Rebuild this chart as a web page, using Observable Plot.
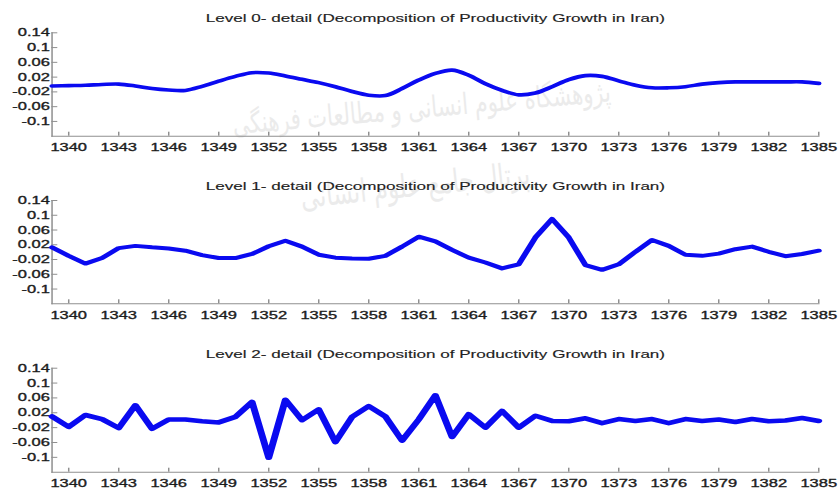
<!DOCTYPE html>
<html>
<head>
<meta charset="utf-8">
<script src="https://cdn.jsdelivr.net/npm/d3@7"></script>
<script src="https://cdn.jsdelivr.net/npm/@observablehq/plot@0.6"></script>
<style>
html, body { margin: 0; padding: 0; background: #fff; }
#wrap { position: relative; width: 839px; height: 490px; overflow: hidden; }
.wm { position: absolute; font-family: "DejaVu Sans", sans-serif; color: #ebebeb; white-space: nowrap; direction: rtl; transform-origin: center; }
#charts { position: absolute; left: 0; top: 0; }
#charts svg { display: block; }
</style>
</head>
<body>
<div id="wrap">
  <div class="wm" style="left:232px; top:96px; font-size:21px; transform:rotate(-5deg) scaleY(1.4);">پژوهشگاه علوم انسانی و مطالعات فرهنگی</div>
  <div class="wm" style="left:300px; top:172px; font-size:23px; transform:rotate(-6deg) scaleY(1.4);">پرتال جامع علوم انسانی</div>
  <div id="charts"></div>
</div>
<script>
// ---- data ----
const years = [1339,1340,1341,1342,1343,1344,1345,1346,1347,1348,1349,1350,1351,1352,1353,1354,1355,1356,1357,1358,1359,1360,1361,1362,1363,1364,1365,1366,1367,1368,1369,1370,1371,1372,1373,1374,1375,1376,1377,1378,1379,1380,1381,1382,1383,1384,1385];

const level0 = [-0.004,-0.003,-0.002,0.000,0.001,-0.004,-0.011,-0.015,-0.016,-0.005,0.009,0.022,0.032,0.031,0.023,0.014,0.005,-0.006,-0.019,-0.029,-0.030,-0.011,0.012,0.030,0.039,0.025,0.002,-0.016,-0.028,-0.023,-0.006,0.013,0.024,0.022,0.010,-0.002,-0.009,-0.009,-0.006,0.001,0.005,0.007,0.007,0.007,0.007,0.007,0.003];

const level1 = [0.013,-0.010,-0.031,-0.016,0.011,0.017,0.013,0.010,0.004,-0.008,-0.016,-0.016,-0.005,0.016,0.031,0.015,-0.007,-0.015,-0.017,-0.018,-0.010,0.015,0.042,0.029,0.006,-0.015,-0.028,-0.044,-0.033,0.040,0.090,0.040,-0.035,-0.048,-0.033,0.001,0.033,0.017,-0.007,-0.010,-0.004,0.008,0.015,0.001,-0.011,-0.005,0.004];

const level2 = [0.010,-0.018,0.014,0.003,-0.021,0.040,-0.023,0.002,0.002,-0.003,-0.006,0.009,0.049,-0.101,0.055,0.000,0.029,-0.059,0.009,0.038,0.010,-0.055,0.002,0.067,-0.045,0.016,-0.020,0.025,-0.020,0.012,-0.002,-0.003,0.005,-0.008,0.003,-0.002,0.003,-0.008,0.003,-0.002,0.002,-0.005,0.003,-0.003,-0.001,0.006,-0.002];

const titles = [
  "Level 0- detail (Decomposition of Productivity Growth in Iran)",
  "Level 1- detail (Decomposition of Productivity Growth in Iran)",
  "Level 2- detail (Decomposition of Productivity Growth in Iran)"
];

const yTicks = [0.14, 0.1, 0.06, 0.02, -0.02, -0.06, -0.1];
const yTickLabels = ["0.14", "0.1", "0.06", "0.02", "-0.02", "-0.06", "-0.1"];
const xTicks = [1340,1343,1346,1349,1352,1355,1358,1361,1364,1367,1370,1373,1376,1379,1382,1385];
const xTickLabels = ["1340","1343","1346","1349","1352","1355","1358","1361","1364","1367","1370","1373","1376","1379","1382","1385"];

// ---- layout ----
const OUT_W = 839;          // real page width
const VW = 560;             // virtual drawing width (picture is horizontally stretched)
const S = OUT_W / VW;
const ML = 51.3 / S, MR = (839 - 818) / S;
const AXIS = "#8f8f8f", INK = "#1c1c1c";

function panel(title, values, cfg) {
  const data = years.map((yr, i) => ({year: yr, value: values[i]}));
  const svg = Plot.plot({
    width: VW,
    height: cfg.height,
    marginTop: cfg.marginTop,
    marginBottom: cfg.marginBottom,
    marginLeft: ML,
    marginRight: MR,
    style: {fontFamily: "'Liberation Sans', Arial, sans-serif", fontSize: "11px", background: "transparent", overflow: "visible", color: INK},
    x: {domain: [years[0], years[years.length - 1]]},
    y: {domain: [-0.14, 0.14]},
    marks: [
      Plot.frame({anchor: "left", stroke: AXIS}),
      Plot.frame({anchor: "bottom", stroke: AXIS}),
      Plot.axisY(yTicks, {anchor: "left", tickSize: -4, tickPadding: 5.5, stroke: AXIS, fill: INK, fontSize: 11,
        textStroke: INK, textStrokeWidth: 0.35,
        tickFormat: d => yTickLabels[yTicks.indexOf(d)], label: null}),
      Plot.axisX(xTicks, {anchor: "bottom", tickSize: -4, tickPadding: 11, stroke: AXIS, fill: INK, fontSize: 11,
        textStroke: INK, textStrokeWidth: 0.35,
        tickFormat: d => xTickLabels[xTicks.indexOf(d)], label: null}),
      Plot.line(data, {x: "year", y: "value", stroke: "#0a0af0", strokeWidth: cfg.strokeWidth, curve: cfg.curve, strokeLinejoin: "round"}),
      Plot.text([title], {frameAnchor: "top", dy: -14, lineAnchor: "middle", fontSize: 11.4, fill: "#222", stroke: "#222", strokeWidth: 0.15})
    ]
  });
  svg.setAttribute("width", OUT_W);
  svg.setAttribute("height", cfg.height);
  svg.setAttribute("preserveAspectRatio", "none");
  svg.style.width = OUT_W + "px";
  svg.style.height = cfg.height + "px";
  svg.style.maxWidth = "none";
  return svg;
}

const host = document.getElementById("charts");
host.appendChild(panel(titles[0], level0, {height: 170, marginTop: 32.3, marginBottom: 34.3, strokeWidth: 3.6, curve: "catmull-rom"}));
host.appendChild(panel(titles[1], level1, {height: 170, marginTop: 30, marginBottom: 36.7, strokeWidth: 4, curve: "linear"}));
host.appendChild(panel(titles[2], level2, {height: 150, marginTop: 27.7, marginBottom: 18.3, strokeWidth: 4.6, curve: "linear"}));
</script>
</body>
</html>
